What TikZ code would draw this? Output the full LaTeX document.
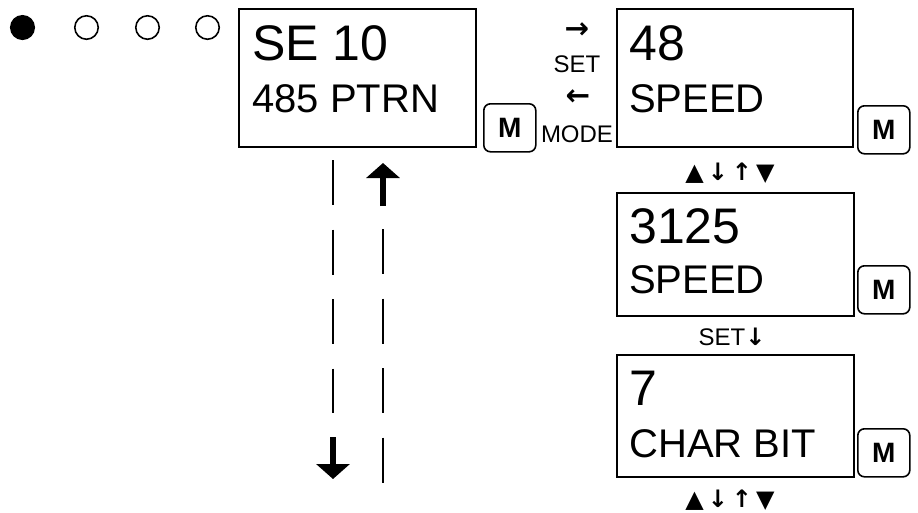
\documentclass[tikz,border=0pt]{standalone}
\usepackage{fontspec}
\setmainfont{Liberation Sans}
\newfontfamily\mnsym{DejaVu Sans}
\usetikzlibrary{arrows.meta}
\begin{document}
\begin{tikzpicture}[x=0.75pt,y=-0.75pt]%
% menu display sequence, coordinates in pixels of a 918 x 512 page
\ifx\mnlw\undefined\newdimen\mnlw\fi
\global\def\mndraw{\draw[line width=\mnlw]}
\global\def\mnstop{;}
\tikzset{
  lcdbox/.style={draw,line width=1.6pt,inner sep=0pt,outer sep=0pt,anchor=north west},
  lcdbig/.style={inner sep=0pt,anchor=base west,font=\fontsize{37.5}{40}\selectfont},
  lcdsmall/.style={inner sep=0pt,anchor=base west,font=\fontsize{30}{32}\selectfont},
  mkey/.style={draw,line width=1.2pt,rounded corners=5pt,inner sep=0pt,anchor=north west,
    minimum width=39pt,minimum height=36pt,font=\fontsize{21}{23}\selectfont\bfseries},
  keylbl/.style={inner sep=0pt,anchor=base,font=\fontsize{18}{20}\selectfont},
  arrlbl/.style={inner sep=0pt,anchor=base,font=\fontsize{22}{24}\selectfont\mnsym\bfseries},
  bigarrow/.style={line width=5pt,-{Triangle[width=24.75pt,length=11.25pt]}}
}
\useasboundingbox (0,0) rectangle (918,512)\mnstop
\mnlw=1.2pt
\mndraw[fill=black](22.5,27.5) circle (8.8pt)\mnstop
\mndraw (86.5,27.5) circle (8.8pt)\mnstop
\mndraw (147.5,27.5) circle (8.8pt)\mnstop
\mndraw (207.5,27.5) circle (8.8pt)\mnstop
\node[lcdbox,minimum width=177.75pt,minimum height=103.5pt] (sel) at (239,9) {};
\node[lcdbig] (selA) at (252,60) {SE 10};
\node[lcdsmall] (selB) at (252,112) {485 PTRN};
\node[mkey] (mkA) at (483,103) {M};
\node[arrlbl] (setR) at (577,38) {→};
\node[keylbl] (setT) at (577,72) {SET};
\node[arrlbl] (modeL) at (578,105) {←};
\node[keylbl] (modeT) at (577,142) {MODE};
\node[lcdbox,minimum width=177pt,minimum height=103.5pt] (spd) at (617,9) {};
\node[lcdbig] (spdA) at (629,60) {48};
\node[lcdsmall] (spdB) at (629,112) {SPEED};
\node[mkey] (mkB) at (857,105) {M};
\node[keylbl] (updA) at (730,180) {\mnsym ▲\,{\bfseries ↓\,↑}\,▼};
\node[lcdbox,minimum width=177.75pt,minimum height=92.25pt] (baud) at (617,193) {};
\node[lcdbig] (baudA) at (629,243) {3125};
\node[lcdsmall] (baudB) at (629,293) {SPEED};
\node[mkey] (mkC) at (857,265) {M};
\node[keylbl] (setD) at (732,345) {SET{\mnsym\bfseries ↓}};
\node[lcdbox,minimum width=177.75pt,minimum height=91.5pt] (chr) at (617,355) {};
\node[lcdbig] (chrA) at (629,405) {7};
\node[lcdsmall] (chrB) at (629,457) {CHAR BIT};
\node[mkey] (mkD) at (857,428) {M};
\node[keylbl] (updB) at (730,507) {\mnsym ▲\,{\bfseries ↓\,↑}\,▼};
\coordinate (dnA) at (333,160);
\coordinate (dnB) at (333,413);
\coordinate (dnC) at (333,437);
\coordinate (dnD) at (333,479);
\coordinate (upA) at (383,229);
\coordinate (upB) at (383,483);
\coordinate (upC) at (383,206);
\coordinate (upD) at (383,163);
\mnlw=2pt
\mndraw[dash pattern=on 33.75pt off 18.4pt] (dnA)
 --(dnB)\mnstop
\mndraw[dash pattern=on 33.75pt off 18.4pt] (upA)
 --(upB)\mnstop
\draw[bigarrow] (dnC) -- (dnD)\mnstop
\draw[bigarrow] (upC) -- (upD)\mnstop
\end{tikzpicture}
\end{document}
